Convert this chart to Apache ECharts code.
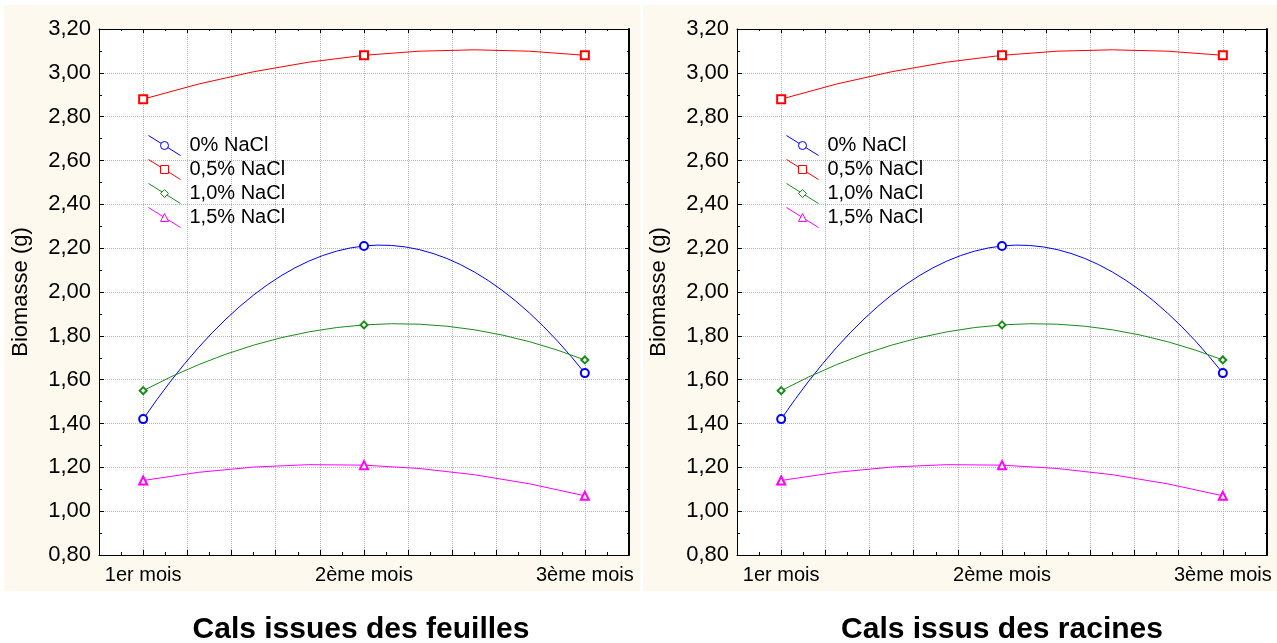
<!DOCTYPE html>
<html>
<head>
<meta charset="utf-8">
<script src="https://cdn.jsdelivr.net/npm/echarts@6/dist/echarts.min.js"></script>
<style>
html,body{margin:0;padding:0;background:#fff;}
#chart{width:1277px;height:643px;}
</style>
</head>
<body>
<div id="chart"></div>
<script>
// ---- data ----
const months = ['1er mois', '2ème mois', '3ème mois'];
const monthPos = [1, 2, 3];
const nacl00 = [1.42, 2.21, 1.63];
const nacl05 = [2.88, 3.08, 3.08];
const nacl10 = [1.55, 1.85, 1.69];
const nacl15 = [1.14, 1.21, 1.07];
const seriesNames = ['0% NaCl', '0,5% NaCl', '1,0% NaCl', '1,5% NaCl'];
const panelTitles = ['Cals issues des feuilles', 'Cals issus des racines'];
const yAxisName = 'Biomasse (g)';
const yMin = 0.8, yMax = 3.2, yStep = 0.2;

// ---- styling ----
const FONT = 'Liberation Sans, Arial, Helvetica, sans-serif';
const colors = ['#0000ff', '#ff0000', '#1a8c1a', '#ff00ff'];
const symbols = ['emptyCircle', 'emptyRect', 'emptyDiamond', 'emptyTriangle'];
const symbolSizes = [8, 8, 7, 8];
const legendIcons = [
  'path://M0,0 L12.6,7.88 M19.4,12.12 L32,20 M20,10 A4,4 0 1 1 12,10 A4,4 0 1 1 20,10 Z',
  'path://M0,0 L12,7.5 M20,12.5 L32,20 M12,6 L20,6 L20,14 L12,14 Z',
  'path://M0,0 L13.54,8.46 M18.46,11.54 L32,20 M16,6 L20,10 L16,14 L12,10 Z',
  'path://M0,0 L14.48,9.05 M18.91,11.82 L32,20 M16,6 L20,14 L12,14 Z'
];
const allValues = [nacl00, nacl05, nacl10, nacl15];
const grids = [
  {left: 99, top: 29, width: 530, height: 526},
  {left: 737, top: 29, width: 530, height: 526}
];
const titleCenters = [361, 1002];
const gridLineStyle = {color: '#b4b4b4', type: [1, 1], width: 1};

function fmtY(v) { return v.toFixed(2).replace('.', ','); }
function fmtX(v) {
  for (let i = 0; i < monthPos.length; i++) {
    if (Math.abs(v - monthPos[i]) < 1e-6) return months[i];
  }
  return '';
}

const xAxes = [], yAxes = [], series = [], legends = [], titles = [], graphics = [];
grids.forEach((g, gi) => {
  xAxes.push({
    gridIndex: gi, type: 'value', position: 'bottom',
    min: 0.8, max: 3.2, interval: 0.2,
    axisLine: {show: true, lineStyle: {color: '#000', width: 1}},
    axisTick: {show: true, inside: true, length: 5, lineStyle: {color: '#000'}},
    minorTick: {show: true, splitNumber: 2, length: 3, lineStyle: {color: '#000'}},
    splitLine: {show: true, lineStyle: gridLineStyle},
    axisLabel: {formatter: fmtX, color: '#000', fontFamily: FONT, fontSize: 20, margin: 10, hideOverlap: false}
  });
  xAxes.push({
    gridIndex: gi, type: 'value', position: 'top',
    min: 0.8, max: 3.2, interval: 0.2,
    axisLine: {show: true, lineStyle: {color: '#000', width: 1}},
    axisTick: {show: true, inside: true, length: 4, lineStyle: {color: '#000'}},
    minorTick: {show: true, splitNumber: 2, length: 2, lineStyle: {color: '#000'}},
    splitLine: {show: false},
    axisLabel: {show: false}
  });
  yAxes.push({
    gridIndex: gi, type: 'value', position: 'left',
    min: yMin, max: yMax, interval: yStep,
    name: yAxisName, nameLocation: 'middle', nameGap: 67,
    nameTextStyle: {color: '#000', fontFamily: FONT, fontSize: 22},
    axisLine: {show: true, lineStyle: {color: '#000', width: 1}},
    axisTick: {show: true, inside: true, length: 5, lineStyle: {color: '#000'}},
    minorTick: {show: true, splitNumber: 2, length: 3, lineStyle: {color: '#000'}},
    splitLine: {show: true, lineStyle: gridLineStyle},
    axisLabel: {formatter: fmtY, color: '#000', fontFamily: FONT, fontSize: 22, margin: 8}
  });
  yAxes.push({
    gridIndex: gi, type: 'value', position: 'right',
    min: yMin, max: yMax, interval: yStep,
    axisLine: {show: true, lineStyle: {color: '#000', width: 2}},
    axisTick: {show: true, inside: true, length: 4, lineStyle: {color: '#000'}},
    minorTick: {show: true, splitNumber: 2, length: 2, lineStyle: {color: '#000'}},
    splitLine: {show: false},
    axisLabel: {show: false}
  });
  allValues.forEach((vals, si) => {
    const pts = vals.map((v, i) => [monthPos[i], v]);
    // fitted curve through the three measured points (drawn via the axes' scales)
    series.push({
      name: seriesNames[si], type: 'custom', coordinateSystem: 'cartesian2d',
      xAxisIndex: gi * 2, yAxisIndex: gi * 2,
      data: pts, silent: true, z: 2,
      renderItem: function (params, api) {
        if (params.dataIndex !== 0) return null;
        const p = pts.map(d => api.coord(d));
        const cx = 2 * p[1][0] - 0.5 * (p[0][0] + p[2][0]);
        const cy = 2 * p[1][1] - 0.5 * (p[0][1] + p[2][1]);
        return {
          type: 'bezierCurve',
          shape: {x1: p[0][0], y1: p[0][1], x2: p[2][0], y2: p[2][1], cpx1: cx, cpy1: cy},
          style: {stroke: colors[si], fill: null, lineWidth: 1}
        };
      }
    });
    // measured points (markers)
    series.push({
      name: seriesNames[si], type: 'line',
      xAxisIndex: gi * 2, yAxisIndex: gi * 2,
      data: pts,
      symbol: symbols[si], symbolSize: symbolSizes[si],
      lineStyle: {width: 0, opacity: 0},
      itemStyle: {color: colors[si], borderColor: colors[si], borderWidth: 1},
      emphasis: {disabled: true}, silent: true,
      z: 3
    });
  });
  legends.push({
    orient: 'vertical', left: g.left + 49, top: 135, padding: 0,
    itemWidth: 32, itemHeight: 20, itemGap: 3,
    selectedMode: false,
    textStyle: {color: '#000', fontFamily: FONT, fontSize: 20, padding: [0, 0, 0, 4]},
    data: seriesNames.map((n, si) => ({
      name: n, icon: legendIcons[si],
      itemStyle: {color: 'rgba(0,0,0,0)', borderColor: colors[si], borderWidth: 1}
    }))
  });
  titles.push({
    text: panelTitles[gi], left: titleCenters[gi], top: 615, textAlign: 'center', padding: 0,
    textStyle: {color: '#000', fontFamily: FONT, fontSize: 30, fontWeight: 'bold'}
  });
});

graphics.push({type: 'rect', shape: {x: 4, y: 5, width: 636, height: 586}, style: {fill: '#fdf9ee'}, z: -10, silent: true});
graphics.push({type: 'rect', shape: {x: 643, y: 5, width: 634, height: 586}, style: {fill: '#fdf9ee'}, z: -10, silent: true});
grids.forEach(g => {
  graphics.push({type: 'rect', shape: {x: g.left, y: g.top, width: g.width, height: g.height}, style: {fill: '#ffffff'}, z: -9, silent: true});
});

const chart = echarts.init(document.getElementById('chart'), null, {renderer: 'canvas'});
chart.setOption({
  backgroundColor: '#ffffff',
  animation: false,
  title: titles,
  legend: legends,
  grid: grids,
  xAxis: xAxes,
  yAxis: yAxes,
  series: series,
  graphic: {elements: graphics}
});
</script>
</body>
</html>
